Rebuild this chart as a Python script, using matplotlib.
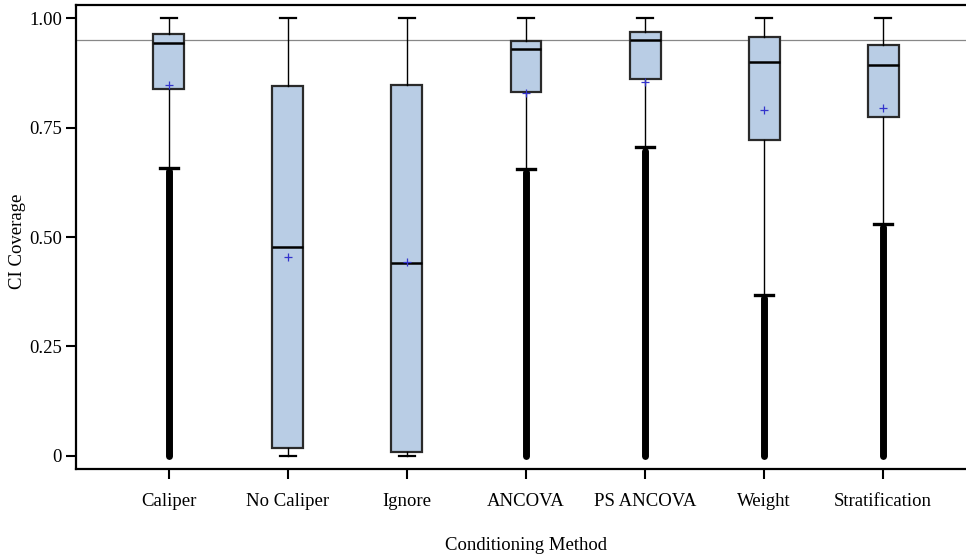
import numpy as np
import matplotlib
matplotlib.use("Agg")
import matplotlib.pyplot as plt

plt.rcParams.update({"font.family": ["Liberation Serif", "DejaVu Serif"]})

# box statistics per conditioning method
methods = ["Caliper", "No Caliper", "Ignore", "ANCOVA", "PS ANCOVA", "Weight", "Stratification"]
q1 = [0.838, 0.017, 0.009, 0.831, 0.861, 0.721, 0.775]
med = [0.943, 0.477, 0.440, 0.930, 0.951, 0.900, 0.894]
q3 = [0.963, 0.845, 0.848, 0.948, 0.969, 0.956, 0.938]
mean = [0.848, 0.454, 0.442, 0.828, 0.853, 0.789, 0.795]
whislo = [0.658, 0.0, 0.0, 0.656, 0.705, 0.368, 0.530]
whishi = [1.0, 1.0, 1.0, 1.0, 1.0, 1.0, 1.0]
# range covered by the (dense) outliers below the lower whisker
out_top = [0.650, np.nan, np.nan, 0.648, 0.697, 0.360, 0.522]
out_bot = [0.0, np.nan, np.nan, 0.0, 0.0, 0.0, 0.0]
ref_line = 0.95

fig = plt.figure(figsize=(9.66, 5.58), dpi=100)
ax = fig.add_axes([76/966, 89/558, 900/966, 464/558])

stats = [dict(med=m, q1=a, q3=b, whislo=lo, whishi=hi, mean=mu, fliers=[], label=n)
         for n, m, a, b, lo, hi, mu in zip(methods, med, q1, q3, whislo, whishi, mean)]
pos = np.arange(len(methods))

ax.axhline(ref_line, color="#888888", lw=0.9, zorder=1)

# outliers drawn as one solid band (they overlap completely in the original)
has_out = ~np.isnan(out_top)
ax.vlines(pos[has_out], np.array(out_bot)[has_out], np.array(out_top)[has_out],
          color="black", lw=5, capstyle="round", zorder=2)

bp = ax.bxp(stats, positions=pos, widths=0.26, patch_artist=True, showmeans=True,
            showfliers=False, capwidths=0.13,
            boxprops=dict(facecolor="#B9CDE5", edgecolor="#2a2a2a", lw=1.6),
            medianprops=dict(color="black", lw=1.8),
            whiskerprops=dict(color="black", lw=1.0),
            capprops=dict(color="black", lw=1.6),
            meanprops=dict(marker="+", markeredgecolor="#3333CC", markersize=6, markeredgewidth=0.9),
            zorder=3)
# lower caps sitting on the outlier band are drawn heavier
for i in pos[has_out]:
    cap = bp["caps"][2 * i]
    cap.set_linewidth(2.4)
    c = np.mean(cap.get_xdata())
    cap.set_xdata([c - 0.075, c + 0.075])

ax.set_xlim(-0.78, 6.78)
ax.set_ylim(-0.030, 1.030)
ax.set_yticks([0, 0.25, 0.5, 0.75, 1.0])
ax.set_yticklabels(["0", "0.25", "0.50", "0.75", "1.00"])
ax.set_xticks(pos)
ax.set_xticklabels(methods)
ax.tick_params(axis="both", direction="out", length=7, width=1.5, labelsize=13.5)
ax.tick_params(axis="y", pad=3)
ax.tick_params(axis="x", pad=10)
for s in ["left", "top", "bottom", "right"]:
    ax.spines[s].set_linewidth(1.6)
ax.set_ylabel("CI Coverage", fontsize=13.5)
ax.set_xlabel("Conditioning Method", fontsize=13.5)
ax.yaxis.set_label_coords(-0.056, 0.49)
ax.xaxis.set_label_coords(0.5, -0.147)

fig.savefig("out.png", dpi=100)
